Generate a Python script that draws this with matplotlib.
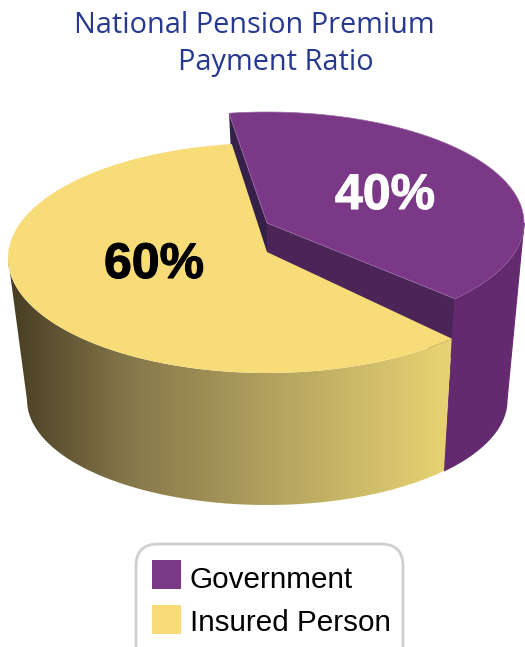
import numpy as np
import matplotlib
matplotlib.use('Agg')
import matplotlib.pyplot as plt
import matplotlib.patheffects as pe
from matplotlib.colors import LinearSegmentedColormap
from matplotlib.patches import FancyBboxPatch, PathPatch, Polygon, Rectangle
from matplotlib.path import Path

title_lines = ['National Pension Premium', 'Payment Ratio']
categories = ['Government', 'Insured Person']
shares = [40, 60]

purple = '#7a3887'
yellow = '#f7dc78'

W, H = 525, 647
fig = plt.figure(figsize=(W / 100, H / 100), dpi=100)
ax = fig.add_axes([0, 0, 1, 1])
ax.set_xlim(0, W)
ax.set_ylim(H, 0)
ax.axis('off')


def arc(cx, cy, rx, ry, a0, a1, n=120):
    # angle in degrees, counter clockwise as seen on screen
    t = np.radians(np.linspace(a0, a1, n))
    return np.column_stack([cx + rx * np.cos(t), cy - ry * np.sin(t)])


# wedge angles come from the shares, small skew from the 3d view
start = 98.5
skew = 1.5
cut = start - 360 * shares[0] / sum(shares) + skew

# top and bottom ellipses (bottom one is narrower, perspective)
yc, yy, yrx, yry = 267, 258, 259, 115
pc, py, prx, pry = 267, 223, 257, 111
bc, by, brx, bry = 267, 400, 240, 105
bot_cut = cut + 1.5
yel_cut = cut - 0.5
pur_cut = cut + 1

# back walls of the purple slice
top_left = arc(pc, py, prx, pry, start, start, 1)[0]
top_right = arc(pc, py, prx, pry, pur_cut, pur_cut, 1)[0]
ax.add_patch(Polygon([top_left, (pc, py), (pc, py + 60), (top_left[0] + 3, top_left[1] + 60)],
                     fc='#35204a', ec='none', zorder=1))
ax.add_patch(Polygon([(pc, py), top_right, (top_right[0] - 2, top_right[1] + 60), (pc, py + 60)],
                     fc='#4c2558', ec='none', zorder=2))

# purple outer side
side = np.vstack([arc(pc, py, prx, pry, pur_cut, 0), arc(bc, by, brx, bry, 0, bot_cut)])
ax.add_patch(Polygon(side, fc='#642a70', ec='#642a70', lw=0.8, zorder=3))

# yellow side with left to right gradient
yellow_top_arc = arc(yc, yy, yrx, yry, 180, 360 + yel_cut)
corner = yellow_top_arc[-1]
yellow_side = np.vstack([yellow_top_arc, arc(bc, by, brx, bry, 360 + bot_cut, 180)])
cmap = LinearSegmentedColormap.from_list(
    'side', [(0, '#463c22'), (0.27, '#85774a'), (0.6, '#b3a25f'), (0.97, '#e5d072'), (1, '#e8d374')])
grad = np.linspace(0, 1, 256).reshape(1, -1)
im = ax.imshow(grad, cmap=cmap, extent=[8, corner[0], H, 0], aspect='auto', zorder=4)
clip = PathPatch(Path(np.vstack([yellow_side, yellow_side[:1]])), transform=ax.transData, fc='none', ec='none')
ax.add_patch(clip)
im.set_clip_path(clip)
ax.set_xlim(0, W)
ax.set_ylim(H, 0)

# yellow top face
yellow_face = np.vstack([[(yc, yy - 6)], arc(yc, yy, yrx, yry, yel_cut, start - 360 - 0.7)])
ax.add_patch(Polygon(yellow_face, fc=yellow, ec='none', zorder=5))

# purple top face
purple_face = np.vstack([[(pc, py)], arc(pc, py, prx, pry, pur_cut, start)])
ax.add_patch(Polygon(purple_face, fc=purple, ec='#9a6aa5', lw=0.5, zorder=6))

# percent labels
bold = [pe.withStroke(linewidth=0.8, foreground='white')]
ax.text(385, 209, f'{shares[0]}%', color='white', fontsize=36, fontweight='bold',
        family='Liberation Sans', ha='center', va='baseline', zorder=7, path_effects=bold)
bold = [pe.withStroke(linewidth=0.8, foreground='black')]
ax.text(154, 278, f'{shares[1]}%', color='black', fontsize=36, fontweight='bold',
        family='Liberation Sans', ha='center', va='baseline', zorder=7, path_effects=bold)

# title
ax.text(74, 33, title_lines[0], color='#26388f', fontsize=20.8, family='Open Sans', va='baseline')
ax.text(178, 70, title_lines[1], color='#26388f', fontsize=20.8, family='Open Sans', va='baseline')

# legend box runs off the bottom of the picture
ax.add_patch(FancyBboxPatch((136, 544), 267, 125, boxstyle='round,pad=0,rounding_size=22',
                            fc='white', ec='#cfcfcf', lw=2, zorder=8))
for i, (name, col) in enumerate(zip(categories, [purple, yellow])):
    y = 560 + i * 45
    ax.add_patch(Rectangle((152, y), 29, 29, fc=col, ec='none', zorder=9))
    ax.text(189.5, y + 28 - i * 2, name, fontsize=21.3, family='Liberation Sans', color='black',
            va='baseline', zorder=9)

fig.savefig('out.png', dpi=100)
